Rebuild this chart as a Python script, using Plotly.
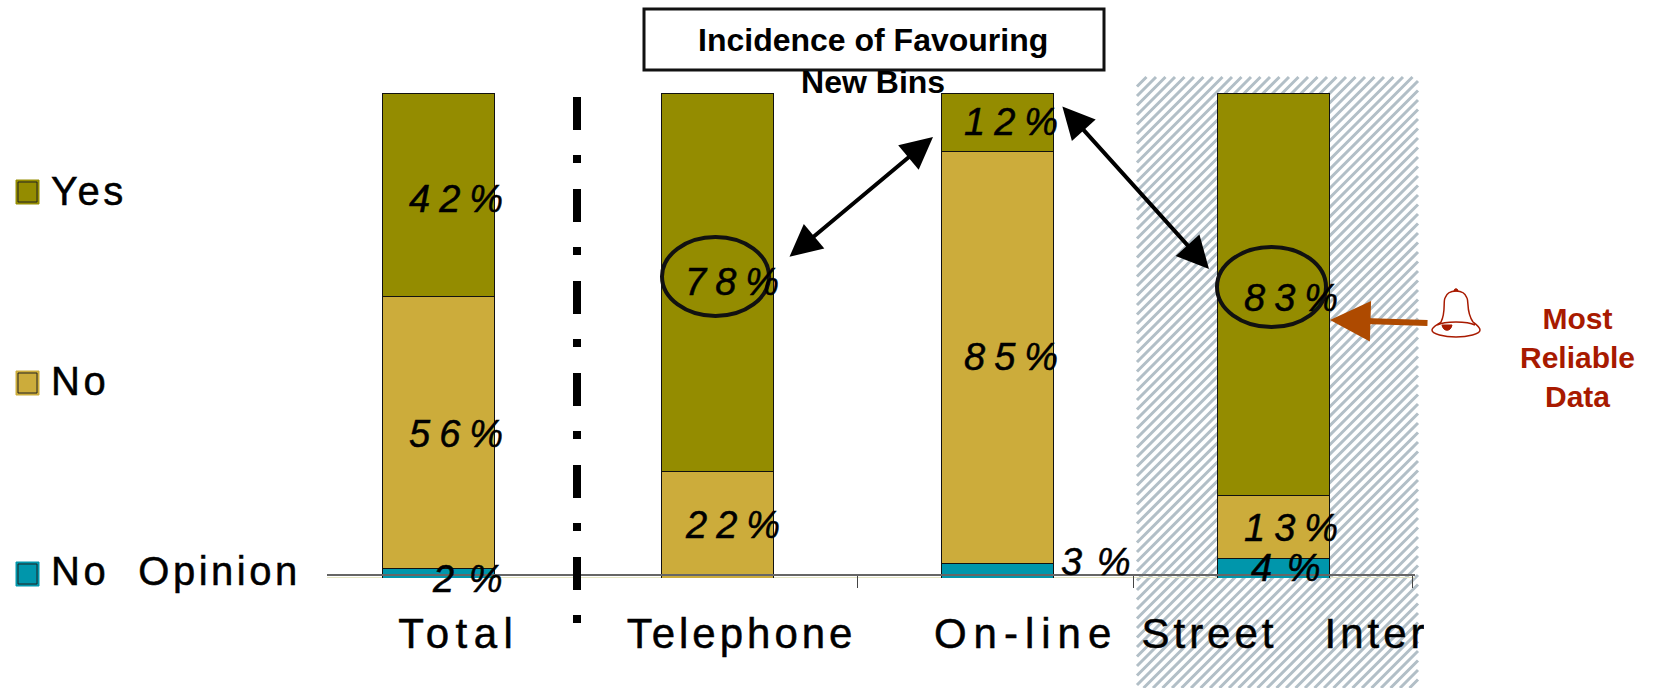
import plotly.graph_objects as go

W, H = 1656, 688

# ---- data ----
categories = ["Total", "Telephone", "On-line", "Street\u00a0\u00a0\u00a0Intercept"]
no_opinion = [2, 0, 3, 4]
no = [56, 22, 85, 13]
yes = [42, 78, 12, 83]
series_names = ["Yes", "No", "No\u00a0\u00a0Opinion"]
title_text = "<b>Incidence of Favouring<br>New Bins</b>"
callout_text = "<b>Most<br>Reliable<br>Data</b>"

# ---- styles ----
OLIVE, GOLD, TEAL = "#948C00", "#CCAC3B", "#0096AB"
BRICK, RED = "#AE4A00", "#A81A00"
SANS = "Liberation Sans"


def fx(x):
    return x / W


def fy(y):
    return 1 - y / H


def path(pts):
    return " ".join(
        p if isinstance(p, str) else f"{fx(p[0]):.5f},{fy(p[1]):.5f}" for p in pts
    )


def pshape(d, **kw):
    return dict(type="path", xref="paper", yref="paper", path=d, **kw)


def rect(x0, y0, x1, y1, **kw):
    return dict(type="rect", xref="paper", yref="paper", x0=fx(x0), x1=fx(x1), y0=fy(y0), y1=fy(y1), **kw)


def spaced(t, s):
    return f'<span style="letter-spacing:{s}px;stroke:black;stroke-width:0.5px">{t}</span>'


fig = go.Figure()
x_pos = [0, 1, 2.004, 2.992]
for name, vals, col in [("No Opinion", no_opinion, TEAL), ("No", no, GOLD), ("Yes", yes, OLIVE)]:
    fig.add_bar(x=x_pos, y=vals, name=name, width=0.402,
                marker=dict(color=col, line=dict(color="#111111", width=1)))

shapes = []
# hatched highlight
hx0, hx1, hy0, hy1 = 1137, 1418, 77, 688
step = 9.5
d = []
c = hx0 + hy0
while c < hx1 + hy1:
    xa = max(hx0, c - hy1)
    xb = min(hx1, c - hy0)
    if xb > xa:
        d += ["M", (xa, c - xa), "L", (xb, c - xb)]
    c += step
shapes.append(pshape(path(d), line=dict(color="#B2BFC7", width=3), layer="below"))

# separator
shapes.append(dict(type="line", xref="paper", yref="paper", x0=fx(577), x1=fx(577), y0=fy(97), y1=fy(624),
                   line=dict(color="black", width=8, dash="33px,25px,8px,26px")))
# pale line under the axis
shapes.append(dict(type="line", xref="paper", yref="paper", x0=fx(327), x1=fx(1415), y0=fy(577.5), y1=fy(577.5),
                   line=dict(color="#E6E6C4", width=1), layer="below"))
# title box
shapes.append(rect(644, 9, 1104, 70, fillcolor="white", line=dict(color="#111111", width=3)))
# ellipses
for x0, y0, x1, y1 in [(662, 237, 769, 316), (1217, 247, 1326, 327)]:
    shapes.append(dict(type="circle", xref="paper", yref="paper", x0=fx(x0), x1=fx(x1), y0=fy(y0), y1=fy(y1),
                       line=dict(color="#111111", width=4)))
# legend swatches
for yc, col in zip([192, 383, 574], [OLIVE, GOLD, TEAL]):
    shapes.append(rect(16, yc - 12, 39, yc + 12, fillcolor=col, line=dict(color=col, width=1)))
    shapes.append(rect(18, yc - 10, 37, yc + 10, fillcolor=col, line=dict(color="#222222", width=1)))
# bell
bell = [
    "M", (1441, 322), "C", (1446, 312), (1443, 302), (1445, 298),
    "C", (1447, 292), (1452, 291), (1456, 291),
    "C", (1460, 291), (1465, 292), (1467, 298),
    "C", (1469, 302), (1466, 312), (1473, 322),
    "C", (1477, 325), (1480, 327), (1480, 330),
    "C", (1480, 334), (1468, 337), (1456, 337),
    "C", (1444, 337), (1432, 334), (1432, 330),
    "C", (1432, 327), (1437, 325), (1441, 322), "Z",
    "M", (1437, 325), "C", (1445, 321), (1467, 321), (1475, 325),
]
shapes.append(pshape(path(bell), line=dict(color=RED, width=1.5)))
clapper = ["M", (1442, 325), "C", (1443, 332), (1451, 332), (1452, 325), "Z"]
shapes.append(pshape(path(clapper), fillcolor=RED, line=dict(color=RED, width=1)))
nub = ["M", (1454, 291), "C", (1454, 288), (1458, 288), (1458, 291), "Z"]
shapes.append(pshape(path(nub), fillcolor=RED, line=dict(color=RED, width=1)))
# cover that cuts the last category label
shapes.append(rect(1424, 600, 1656, 688, fillcolor="white", line=dict(width=0)))

ann = []
# value labels
xshift = {"yes": [22, 19, 18, 22], "no": [22, 19, 18, 22], "op": [29, 0, 99, 13]}
yshift = {"yes": [-4, 0, 0, -4], "no": [-1, 0, 0, -1], "op": [-6, 0, 9, 0]}
for i, xp in enumerate(x_pos):
    for key, lo, v, sp in [("op", 0, no_opinion[i], 2), ("no", no_opinion[i], no[i], 9),
                           ("yes", no_opinion[i] + no[i], yes[i], 9)]:
        if v == 0:
            continue
        label = f"{v}\u00a0%" if key == "op" else f"{v}%"
        ann.append(dict(x=xp, y=lo + v / 2, xref="x", yref="y", text=spaced(label, sp), showarrow=False,
                        xshift=xshift[key][i], yshift=yshift[key][i], xanchor="center", yanchor="middle",
                        font=dict(family=SANS, size=38, color="black", style="italic")))
# legend labels
for yc, name in zip([191, 381, 571], series_names):
    ann.append(dict(x=fx(49), y=fy(yc), xref="paper", yref="paper", xanchor="left", yanchor="middle",
                    text=spaced(name, 3.5), showarrow=False, font=dict(family=SANS, size=40, color="black")))
# title
ann.append(dict(x=fx(873), y=fy(61), xref="paper", yref="paper", text=title_text, showarrow=False,
                xanchor="center", yanchor="middle", font=dict(family=SANS, size=32, color="black")))
# callout
ann.append(dict(x=fx(1577), y=fy(357), xref="paper", yref="paper", text=callout_text, showarrow=False,
                xanchor="center", yanchor="middle", font=dict(family=SANS, size=30, color=RED)))
# arrows (offsets of the tail from the head are in pixels)
for (x0, y0, x1, y1) in [(788, 258, 933, 137), (1061, 105, 1209, 269)]:
    ann.append(dict(x=fx(x1), y=fy(y1), ax=x0 - x1, ay=y0 - y1, xref="paper", yref="paper",
                    text="", showarrow=True, arrowhead=2, startarrowhead=2, arrowside="end+start",
                    arrowwidth=4, arrowsize=1.6, startarrowsize=1.6, arrowcolor="black"))
ann.append(dict(x=fx(1330), y=fy(320), ax=99, ay=3, xref="paper", yref="paper",
                text="", showarrow=True, arrowhead=2, arrowwidth=6, arrowsize=1.35,
                arrowcolor=BRICK))

label_spacing = [6.5, 4, 7, 4]
fig.update_layout(
    width=W, height=H, margin=dict(l=0, r=0, t=0, b=0, pad=0, autoexpand=False),
    barmode="stack", showlegend=False, paper_bgcolor="white", plot_bgcolor="rgba(0,0,0,0)",
    shapes=shapes, annotations=ann,
    xaxis=dict(
        domain=[fx(327), fx(1415)], range=[-0.4, 3.5], anchor="free", position=fy(574.5),
        tickmode="array", tickvals=[0.0725, 1.086, 2.106, 3.205],
        ticktext=[spaced(c, s) for c, s in zip(categories, label_spacing)],
        ticks="", ticklabelstandoff=22, tickangle=0, showgrid=False, zeroline=False,
        showline=True, linecolor="#666666", linewidth=2,
        tickfont=dict(family=SANS, size=42, color="black"),
        minor=dict(tickmode="array", tickvals=[0.5, 1.5, 2.49, 3.49], ticks="outside", ticklen=12,
                   tickwidth=1, tickcolor="#444444", showgrid=False),
    ),
    yaxis=dict(domain=[fy(578), fy(93)], range=[0, 100], visible=False),
)
fig.write_html("out.html", config=dict(displayModeBar=False),
               post_script="document.body.style.margin='0';document.documentElement.style.overflow='hidden';")
